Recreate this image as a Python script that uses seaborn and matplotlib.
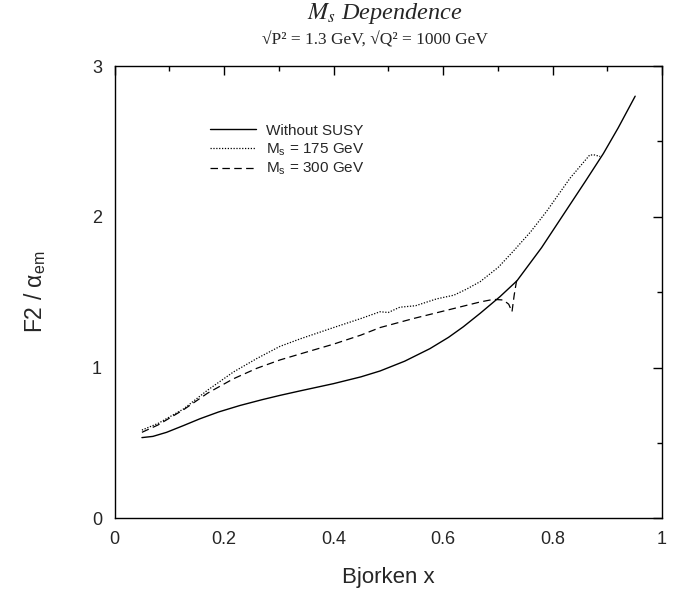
import matplotlib
matplotlib.use("Agg")
import matplotlib.pyplot as plt
import seaborn as sns
import pandas as pd
from matplotlib.ticker import MultipleLocator

# ---- data ----
x_nosusy = [0.05, 0.07, 0.095, 0.126, 0.156, 0.19, 0.229, 0.27, 0.302, 0.339, 0.4, 0.45,
            0.485, 0.53, 0.576, 0.61, 0.637, 0.668, 0.704, 0.735, 0.78, 0.82, 0.86, 0.893, 0.92, 0.951]
y_nosusy = [0.535, 0.543, 0.57, 0.615, 0.66, 0.705, 0.748, 0.787, 0.815, 0.845, 0.893, 0.938,
            0.977, 1.042, 1.125, 1.2, 1.27, 1.36, 1.47, 1.575, 1.795, 2.015, 2.235, 2.42, 2.59, 2.80]

x_ms175 = [0.05, 0.08, 0.126, 0.17, 0.217, 0.26, 0.302, 0.339, 0.4, 0.45, 0.485, 0.50, 0.521,
           0.55, 0.588, 0.62, 0.643, 0.668, 0.701, 0.728, 0.76, 0.789, 0.832, 0.868, 0.877, 0.887]
y_ms175 = [0.585, 0.63, 0.725, 0.85, 0.97, 1.06, 1.14, 1.19, 1.265, 1.325, 1.37, 1.365, 1.40,
           1.41, 1.455, 1.48, 1.52, 1.57, 1.665, 1.77, 1.9, 2.035, 2.256, 2.41, 2.41, 2.40]

x_ms300 = [0.05, 0.08, 0.126, 0.17, 0.217, 0.26, 0.302, 0.339, 0.4, 0.45, 0.485, 0.546, 0.607,
           0.668, 0.692, 0.71, 0.72, 0.726, 0.73, 0.735]
y_ms300 = [0.57, 0.62, 0.72, 0.83, 0.925, 0.995, 1.05, 1.09, 1.155, 1.215, 1.265, 1.325, 1.38,
           1.435, 1.452, 1.448, 1.42, 1.37, 1.48, 1.59]

labels = ["Without SUSY", r"M$_\mathregular{s}$ = 175 GeV", r"M$_\mathregular{s}$ = 300 GeV"]
x_ticks = [0, 0.2, 0.4, 0.6, 0.8, 1]
x_ticklabels = ["0", "0.2", "0.4", "0.6", "0.8", "1"]
y_ticks = [0, 1, 2, 3]

df = pd.concat([
    pd.DataFrame({"x": x_nosusy, "y": y_nosusy, "series": labels[0]}),
    pd.DataFrame({"x": x_ms175, "y": y_ms175, "series": labels[1]}),
    pd.DataFrame({"x": x_ms300, "y": y_ms300, "series": labels[2]}),
], ignore_index=True)

sns.set_style("white")
plt.rcParams["font.family"] = ["Liberation Sans", "DejaVu Sans"]
plt.rcParams["mathtext.fontset"] = "stix"

fig = plt.figure(figsize=(6.86, 5.95), dpi=100)
ax = fig.add_axes([0.167, 0.129, 0.798, 0.760])

styles = {labels[0]: dict(ls="-", lw=1.0),
          labels[1]: dict(ls=(0, (1, 1.3)), lw=0.9),
          labels[2]: dict(ls=(0, (6, 3.5)), lw=0.9)}
for lab in labels:
    sub = df[df["series"] == lab]
    sns.lineplot(data=sub, x="x", y="y", ax=ax, color="black", sort=False,
                 estimator=None, label=lab, linestyle=styles[lab]["ls"],
                 linewidth=styles[lab]["lw"])

ax.set_xlim(0, 1)
ax.set_ylim(0, 3)
ax.set_xticks(x_ticks)
ax.set_xticklabels(x_ticklabels)
ax.set_yticks(y_ticks)
ax.xaxis.set_minor_locator(MultipleLocator(0.1))
ax.yaxis.set_minor_locator(MultipleLocator(0.5))
ax.tick_params(which="both", direction="in", top=True, right=True, labelsize=13,
               color="black", width=1)
ax.tick_params(which="major", length=6.5, pad=9)
ax.tick_params(which="minor", length=3.5)
for s in ax.spines.values():
    s.set_color("black")
    s.set_linewidth(1)

ax.set_xlabel("Bjorken x", fontsize=16, labelpad=14)
ax.set_ylabel(r"F2 / α$_\mathregular{em}$", fontsize=16.5, labelpad=32)

leg = ax.legend(loc="upper left", bbox_to_anchor=(0.15, 0.903), frameon=False,
                fontsize=11, handlelength=3.0, handletextpad=0.65, labelspacing=0.25)

fig.text(0.561, 0.978, r"$M_s$ Dependence", ha="center", va="center",
         fontsize=17.5, family=["Liberation Serif", "DejaVu Serif"], style="italic")
fig.text(0.547, 0.933, "√P² = 1.3 GeV, √Q² = 1000 GeV", ha="center", va="center",
         fontsize=12.5, family=["Liberation Serif", "DejaVu Serif"])

fig.savefig("out.png", dpi=100)
